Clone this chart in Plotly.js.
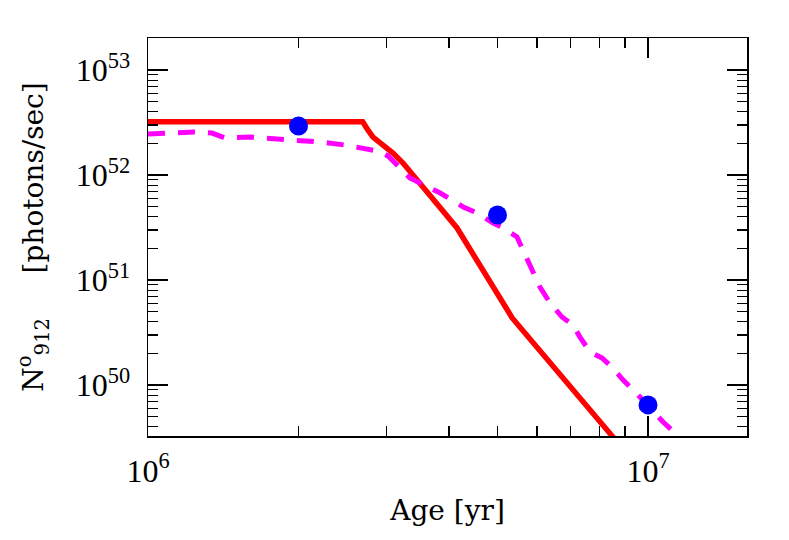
<!DOCTYPE html>
<html>
<head>
<meta charset="utf-8">
<script src="https://cdn.plot.ly/plotly-3.0.1.min.js"></script>
<style>html,body{margin:0;padding:0;background:#fff;}#chart{width:789px;height:540px;}</style>
</head>
<body>
<div id="chart"></div>
<script>
// Solid red model
const redAge = [1.0e6, 2.688e6, 2.75e6, 2.818e6, 3.09e6, 3.236e6, 4.15e6, 5.35e6, 8.51e6, 1.0e7];
const redN   = [3.22e52, 3.22e52, 2.7e52, 2.30e52, 1.62e52, 1.30e52, 3.13e51, 4.35e50, 3.2e49, 1.3e49];
// Dashed magenta model
const magAge = [1.0e6, 1.24e6, 1.343e6, 1.426e6, 1.6e6, 1.879e6, 2.208e6, 2.477e6, 2.716e6, 2.884e6, 3.02e6, 3.19e6, 3.34e6, 3.5e6, 3.84e6, 4.27e6, 4.55e6, 4.9e6, 5.13e6, 5.47e6, 5.73e6, 6.08e6, 6.37e6, 6.73e6, 7.08e6, 7.31e6, 7.66e6, 8.09e6, 8.51e6, 8.91e6, 1.0e7, 1.072e7, 1.143e7, 1.186e7];
const magN   = [2.46e52, 2.57e52, 2.51e52, 2.25e52, 2.30e52, 2.20e52, 2.06e52, 1.93e52, 1.81e52, 1.69e52, 1.52e52, 1.17e52, 9.36e51, 8.39e51, 6.74e51, 4.96e51, 4.35e51, 3.49e51, 3.13e51, 2.57e51, 1.55e51, 8.57e50, 6.04e50, 4.44e50, 3.73e50, 2.86e50, 2.06e50, 1.81e50, 1.45e50, 1.12e50, 6.4e49, 4.44e49, 3.34e49, 2.4e49];
// Blue points
const ptAge = [2e6, 5e6, 1e7];
const ptN   = [2.93e52, 4.16e51, 6.46e49];

const xTickVals = [1e6, 1e7];
const xTickText = ['10<sup>6</sup>', '10<sup>7</sup>'];
const xMinor = [2e6,3e6,4e6,5e6,6e6,7e6,8e6,9e6,2e7];
const yTickVals = [1e50, 1e51, 1e52, 1e53];
const yTickText = ['10<sup>50</sup>', '10<sup>51</sup>', '10<sup>52</sup>', '10<sup>53</sup>'];
const yMinor = [];
for (const e of [49, 50, 51, 52, 53]) for (const m of [2,3,4,5,6,7,8,9]) yMinor.push(m * Math.pow(10, e));

const traces = [
  {x: redAge, y: redN, type: 'scatter', mode: 'lines', line: {color: '#ff0000', width: 5.5}, hoverinfo: 'skip'},
  {x: magAge, y: magN, type: 'scatter', mode: 'lines', line: {color: '#ff00ff', width: 5, dash: '17px,13px'}, hoverinfo: 'skip'},
  {x: ptAge, y: ptN, type: 'scatter', mode: 'markers', marker: {color: '#0000ff', size: 19}, hoverinfo: 'skip'}
];

const axisCommon = {
  showgrid: false, zeroline: false, showline: true, linecolor: '#000', linewidth: 1.5,
  mirror: 'ticks', ticks: 'inside', ticklen: 20, tickwidth: 1.3, tickcolor: '#000',
  tickmode: 'array',
  tickfont: {family: 'Liberation Serif, serif', size: 32, color: '#000'}
};

const layout = {
  width: 789, height: 540,
  margin: {l: 148, r: 42, t: 38, b: 104},
  paper_bgcolor: '#fff', plot_bgcolor: '#fff',
  showlegend: false,
  xaxis: Object.assign({}, axisCommon, {
    type: 'log', range: [6, 7.198],
    tickvals: xTickVals, ticktext: xTickText, ticklabelstandoff: 6,
    minor: {tickmode: 'array', tickvals: xMinor, ticks: 'inside', ticklen: 10, tickwidth: 1.3, tickcolor: '#000', showgrid: false},
    title: {text: 'Age [yr]', font: {family: 'DejaVu Serif, serif', size: 28, color: '#000'}, standoff: 12}
  }),
  yaxis: Object.assign({}, axisCommon, {
    type: 'log', range: [49.514, 53.305],
    tickvals: yTickVals, ticktext: yTickText, ticklabelstandoff: 10,
    minor: {tickmode: 'array', tickvals: yMinor, ticks: 'inside', ticklen: 10, tickwidth: 1.3, tickcolor: '#000', showgrid: false},
    title: {text: 'N<sup>o</sup><sub>912</sub>     [photons/sec]', font: {family: 'DejaVu Serif, serif', size: 28, color: '#000'}, standoff: 24}
  })
};

Plotly.newPlot('chart', traces, layout, {displayModeBar: false, staticPlot: true});
</script>
</body>
</html>
